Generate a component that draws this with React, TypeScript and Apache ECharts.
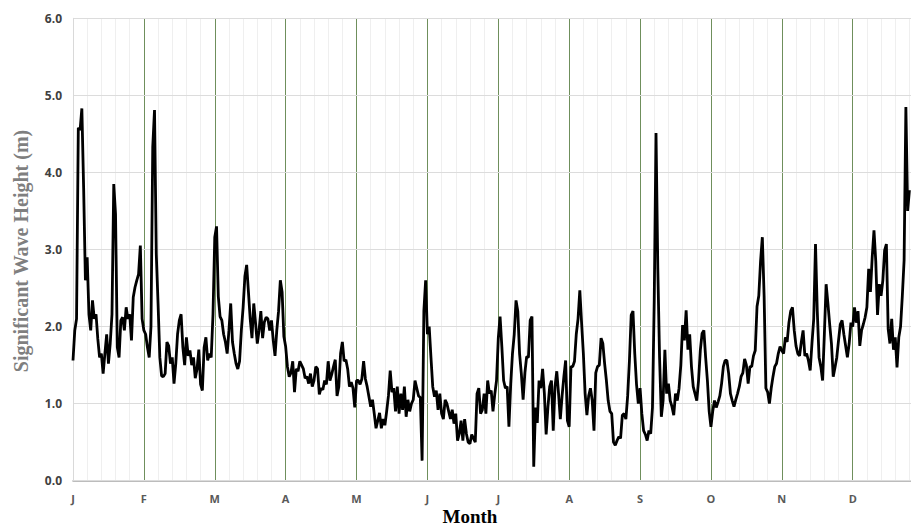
import React, { useEffect, useRef } from "react";
import * as echarts from "echarts";

// Month tick labels
const monthLabels = ["J", "F", "M", "A", "M", "J", "J", "A", "S", "O", "N", "D"];

// Significant wave height (m), 40 readings per month (December partial)
const jan = [1.56, 1.95, 2.1, 4.58, 4.55, 4.83, 3.8, 2.6, 2.9, 2.16, 1.95, 2.34, 2.1, 2.16, 1.84, 1.6, 1.65, 1.39, 1.65, 1.9, 1.52, 1.78, 2.16, 3.85, 3.46, 1.73, 1.6, 2.08, 2.12, 1.95, 2.25, 2.1, 2.16, 1.82, 2.38, 2.51, 2.6, 2.68, 3.05, 2.1];
const feb = [1.95, 1.9, 1.73, 1.6, 2.0, 4.33, 4.81, 2.94, 2.3, 1.6, 1.36, 1.35, 1.39, 1.8, 1.75, 1.52, 1.6, 1.26, 1.52, 1.9, 2.08, 2.16, 1.73, 1.5, 1.86, 1.62, 1.69, 1.5, 1.6, 1.33, 1.45, 1.7, 1.25, 1.17, 1.73, 1.86, 1.56, 1.65, 1.6, 2.16];
const mar = [3.16, 3.3, 2.39, 2.13, 2.08, 1.9, 1.8, 1.65, 1.95, 2.3, 1.8, 1.65, 1.52, 1.45, 1.55, 1.95, 2.25, 2.65, 2.8, 2.45, 2.1, 1.85, 2.3, 2.05, 1.78, 1.95, 2.2, 1.85, 2.06, 2.12, 2.1, 1.95, 2.08, 1.82, 1.62, 1.95, 2.2, 2.6, 2.45, 1.87];
const apr = [1.74, 1.48, 1.35, 1.4, 1.55, 1.15, 1.45, 1.42, 1.55, 1.5, 1.45, 1.33, 1.35, 1.26, 1.39, 1.22, 1.3, 1.48, 1.45, 1.12, 1.2, 1.18, 1.3, 1.25, 1.55, 1.3, 1.38, 1.48, 1.57, 1.1, 1.22, 1.65, 1.8, 1.55, 1.57, 1.45, 1.22, 1.28, 1.2, 0.95];
const may = [1.3, 1.3, 1.25, 1.32, 1.55, 1.32, 1.22, 1.09, 0.96, 1.05, 0.87, 0.68, 0.78, 0.88, 0.68, 0.8, 0.72, 0.9, 1.1, 1.43, 1.15, 1.2, 0.9, 1.22, 0.87, 1.13, 0.92, 1.22, 0.83, 1.05, 0.9, 1.0, 1.05, 1.3, 1.2, 1.1, 1.08, 0.26, 2.2, 2.6];
const jun = [1.9, 2.0, 1.6, 1.22, 1.09, 1.17, 0.92, 1.13, 0.87, 0.8, 1.05, 1.0, 0.9, 0.8, 0.92, 0.74, 0.87, 0.52, 0.61, 0.78, 0.52, 0.8, 0.61, 0.5, 0.48, 0.6, 0.55, 0.5, 1.13, 1.2, 0.87, 0.92, 1.13, 0.87, 1.3, 1.13, 1.17, 0.9, 1.12, 1.3];
const jul = [1.85, 2.13, 1.74, 1.3, 1.2, 1.22, 0.7, 1.25, 1.65, 1.9, 2.34, 2.2, 1.65, 1.39, 1.05, 1.4, 1.61, 1.6, 2.08, 2.13, 0.18, 0.95, 0.75, 1.3, 1.2, 1.45, 1.13, 0.6, 0.95, 1.22, 1.3, 0.65, 1.22, 1.42, 1.13, 0.8, 1.1, 1.35, 1.56, 0.78];
const aug = [0.7, 1.48, 1.48, 1.55, 1.9, 2.1, 2.47, 2.05, 1.65, 1.13, 0.85, 1.1, 1.2, 1.04, 0.65, 1.4, 1.48, 1.5, 1.85, 1.78, 1.52, 1.3, 1.04, 0.9, 0.87, 0.5, 0.46, 0.52, 0.57, 0.55, 0.85, 0.87, 0.8, 1.1, 1.56, 2.15, 2.2, 1.65, 1.25, 1.0];
const sep = [1.2, 0.87, 0.65, 0.6, 0.52, 0.65, 0.61, 0.95, 2.34, 4.51, 2.77, 1.6, 0.83, 1.04, 1.7, 1.13, 1.26, 1.04, 0.96, 0.85, 1.13, 1.04, 1.2, 1.5, 2.02, 1.82, 2.21, 1.7, 1.9, 1.48, 1.22, 1.13, 1.04, 1.3, 1.69, 1.91, 1.95, 1.6, 1.3, 0.9];
const oct = [0.7, 0.9, 1.04, 0.95, 1.02, 1.1, 1.26, 1.48, 1.56, 1.56, 1.39, 1.13, 1.04, 0.96, 1.05, 1.13, 1.22, 1.35, 1.4, 1.58, 1.5, 1.26, 1.48, 1.48, 1.62, 1.69, 2.26, 2.4, 2.85, 3.16, 2.4, 1.2, 1.15, 1.0, 1.2, 1.35, 1.48, 1.52, 1.65, 1.74];
const nov = [1.69, 1.65, 1.86, 1.8, 2.05, 2.2, 2.25, 1.95, 1.75, 1.65, 1.62, 1.8, 1.95, 1.62, 1.65, 1.56, 1.43, 1.78, 2.1, 3.07, 2.2, 1.6, 1.48, 1.3, 1.9, 2.55, 2.3, 2.03, 1.78, 1.35, 1.47, 1.6, 1.82, 2.03, 2.08, 1.9, 1.75, 1.6, 1.78, 2.05];
const dec = [2.0, 2.25, 2.05, 2.2, 1.75, 1.95, 2.03, 2.12, 2.25, 2.75, 2.45, 2.9, 3.25, 2.85, 2.15, 2.55, 2.4, 2.6, 2.99, 3.07, 1.97, 1.78, 2.1, 1.7, 1.86, 1.47, 1.86, 2.0, 2.4, 2.86, 4.85, 3.5, 3.77];

const months = [jan, feb, mar, apr, may, jun, jul, aug, sep, oct, nov, dec];
const perMonth = 40;

export default function App() {
  const ref = useRef<HTMLDivElement>(null);

  useEffect(() => {
    if (!ref.current) return;
    const chart = echarts.init(ref.current, undefined, { renderer: "svg" });

    const data: [number, number][] = [];
    months.forEach((vals, m) => {
      vals.forEach((v, i) => data.push([m + i / perMonth, v]));
    });

    const sansFont = "'Open Sans', 'Liberation Sans', sans-serif";
    const serifFont = "'Liberation Serif', 'Times New Roman', serif";

    chart.setOption({
      animation: false,
      backgroundColor: "#ffffff",
      grid: {
        left: 73,
        width: 850.6,
        top: 18.3,
        bottom: 46.3,
        containLabel: false,
        outerBoundsMode: "none",
      },
      xAxis: {
        type: "value",
        min: 0,
        max: 12,
        interval: 1,
        axisLine: { show: true, lineStyle: { color: "#a6a6a6", width: 1.5 } },
        axisTick: { show: false },
        axisLabel: {
          margin: 12,
          color: "#595959",
          fontWeight: "bold",
          fontSize: 11,
          fontFamily: sansFont,
          formatter: (v: number) => monthLabels[v] ?? "",
        },
        splitLine: { show: true, lineStyle: { color: "#6f8f5c", width: 1 } },
        minorTick: { show: false, splitNumber: 5 },
        minorSplitLine: { show: true, lineStyle: { color: "#efefef", width: 1 } },
      },
      yAxis: {
        type: "value",
        min: 0,
        max: 6,
        interval: 1,
        z: 3,
        axisLine: { show: true, lineStyle: { color: "#d9d9d9", width: 1 } },
        axisTick: { show: false },
        axisLabel: {
          margin: 11,
          color: "#404040",
          fontWeight: "bold",
          fontSize: 12,
          fontFamily: sansFont,
          formatter: (v: number) => v.toFixed(1),
        },
        splitLine: { show: true, lineStyle: { color: "#dcdcdc", width: 1 } },
      },
      series: [
        {
          type: "line",
          data,
          showSymbol: false,
          symbol: "none",
          lineStyle: { color: "#000000", width: 2.8 },
          z: 5,
        },
      ],
      graphic: [
        {
          type: "text",
          x: 470,
          y: 516,
          style: {
            text: "Month",
            fill: "#000000",
            font: `bold 19px ${serifFont}`,
            align: "center",
            verticalAlign: "middle",
          },
        },
        {
          type: "text",
          x: 21,
          y: 251,
          rotation: Math.PI / 2,
          style: {
            text: "Significant Wave Height (m)",
            fill: "#7f7f7f",
            font: `bold 20px ${serifFont}`,
            align: "center",
            verticalAlign: "middle",
          },
        },
      ],
    });

    return () => chart.dispose();
  }, []);

  return (
    <div
      ref={ref}
      style={{ position: "fixed", left: 0, top: 0, width: 911, height: 527, background: "#fff" }}
    />
  );
}
